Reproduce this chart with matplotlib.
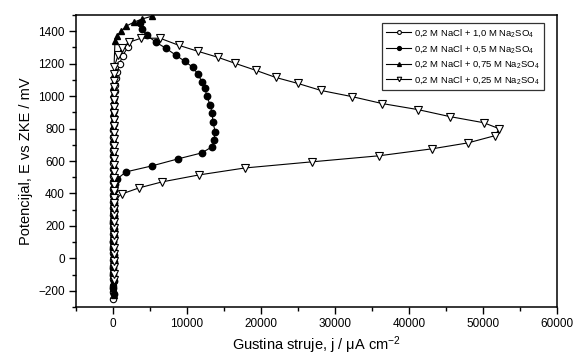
import matplotlib
matplotlib.use("Agg")
import matplotlib.pyplot as plt
from matplotlib.ticker import MultipleLocator

plt.rcParams['font.family'] = ['Liberation Sans', 'DejaVu Sans']
plt.rcParams['mathtext.fontset'] = 'custom'
plt.rcParams['mathtext.rm'] = 'Liberation Sans'
plt.rcParams['mathtext.it'] = 'Liberation Sans'

# 0,2 M NaCl + 1,0 M Na2SO4 (open circles)
j_10 = [60, 40, 50, 30, 40, 60, 50, 40, 30, 50, 60, 40, 50, 30, 40, 60, 50, 40, 30, 50,
        60, 40, 50, 60, 40, 50, 60, 70, 90, 120, 160, 200, 250, 300, 400, 600, 900, 1300, 2000]
E_10 = [-250, -210, -170, -130, -90, -50, -10, 30, 70, 110, 150, 190, 230, 270, 310, 350, 390, 430, 470, 510,
        550, 590, 630, 670, 710, 750, 790, 830, 870, 910, 950, 990, 1030, 1070, 1110, 1150, 1200, 1250, 1300]

# 0,2 M NaCl + 0,5 M Na2SO4 (filled circles)
j_05 = [80, 60, 70, 50, 60, 80, 70, 60, 50, 70, 80, 60, 70, 90, 120, 160, 200, 300, 540, 1760, 5270, 8780,
        12000, 13400, 13650, 13800, 13500, 13400, 13100, 12700, 12430, 12000, 11500, 10800, 9730,
        8500, 7160, 5800, 4595, 3900, 3600]
E_05 = [-217, -180, -140, -100, -60, -20, 20, 60, 100, 140, 180, 220, 260, 300, 340, 380, 420, 460, 489, 533, 570, 613,
        650, 688, 731, 781, 843, 898, 948, 998, 1047, 1090, 1134, 1177, 1214,
        1252, 1295, 1332, 1375, 1412, 1450]

# 0,2 M NaCl + 0,75 M Na2SO4 (filled triangles)
j_075 = [70, 50, 60, 40, 50, 70, 60, 50, 40, 60, 70, 50, 60, 40, 50, 70, 60, 50, 40, 60, 70, 50, 60, 40,
         50, 70, 60, 50, 40, 60, 70, 50, 60, 80, 100, 270, 540, 1080, 1760, 2840, 3900, 5270]
E_075 = [-225, -185, -145, -105, -65, -25, 15, 55, 95, 135, 175, 215, 255, 295, 335, 375, 415, 455, 495, 535,
         575, 615, 655, 695, 735, 775, 815, 855, 895, 935, 975, 1015, 1055, 1095, 1135, 1338, 1370, 1400,
         1431, 1456, 1475, 1493]

# 0,2 M NaCl + 0,25 M Na2SO4 (open triangles)
j_025 = [100, 90, 100, 90, 100, 90, 100, 90, 100, 90, 100, 90, 135, 1200, 3500, 6600, 11600, 17800, 26900,
         35900, 43100, 48000, 51600, 52200, 50100, 45500, 41200, 36400, 32300, 28100, 25000, 22000,
         19300, 16500, 14200, 11500, 8900, 6350, 3800, 2160, 1200, 700, 135, 100, 90, 100, 90, 100, 90,
         100, 90, 100, 90, 100, 90, 100, 90, 100, 90, 100, 90, 100, 90, 100]
E_025 = [-135, -95, -55, -15, 25, 65, 105, 145, 185, 225, 265, 305, 359, 397, 434, 471, 514, 557, 595,
         632, 675, 712, 756, 799, 836, 874, 917, 954, 997, 1035, 1078, 1115,
         1159, 1202, 1239, 1276, 1313, 1357, 1357, 1332, 1295, 1252, 1177, 1135, 1095, 1055, 1015, 975,
         935, 895, 855, 815, 775, 735, 695, 655, 615, 575, 535, 495, 455, 415, 375, 340]

labels = ['0,2 M NaCl + 1,0 M Na$_2$SO$_4$', '0,2 M NaCl + 0,5 M Na$_2$SO$_4$',
          '0,2 M NaCl + 0,75 M Na$_2$SO$_4$', '0,2 M NaCl + 0,25 M Na$_2$SO$_4$']

fig = plt.figure(figsize=(5.77, 3.59), dpi=100)
ax = fig.add_axes([0.1317, 0.1448, 0.8336, 0.8134])

ms = 4.6
ax.plot(j_10, E_10, '-o', color='black', lw=0.8, ms=ms, mfc='white', mec='black', mew=0.8, label=labels[0])
ax.plot(j_05, E_05, '-o', color='black', lw=0.8, ms=ms, mfc='black', mec='black', label=labels[1])
ax.plot(j_075, E_075, '-^', color='black', lw=0.8, ms=ms, mfc='black', mec='black', label=labels[2])
ax.plot(j_025, E_025, '-v', color='black', lw=0.8, ms=ms + 0.8, mfc='white', mec='black', mew=0.8, label=labels[3])

ax.set_xlim(-5000, 60000)
ax.set_ylim(-300, 1500)
ax.xaxis.set_major_locator(MultipleLocator(10000))
ax.xaxis.set_minor_locator(MultipleLocator(5000))
ax.yaxis.set_major_locator(MultipleLocator(200))
ax.yaxis.set_minor_locator(MultipleLocator(100))
ax.tick_params(which='major', direction='out', length=5, width=1, labelsize=8.5, colors='black', pad=3)
ax.tick_params(which='minor', direction='out', length=3, width=1)
for s in ax.spines.values():
    s.set_linewidth(1.1)

ax.set_xlabel('Gustina struje, j / \u03bcA cm$^{-2}$', fontsize=10.5, labelpad=3)
ax.set_ylabel('Potencijal, E vs ZKE / mV', fontsize=10.5, labelpad=4)

leg = ax.legend(loc='upper right', bbox_to_anchor=(0.982, 0.99), fontsize=6.8, frameon=True, fancybox=False,
                edgecolor='black', handlelength=2.6, markerscale=0.6, borderpad=0.45, labelspacing=0.4,
                handletextpad=0.3)
leg.get_frame().set_linewidth(0.9)

fig.savefig('out.png', dpi=100)
